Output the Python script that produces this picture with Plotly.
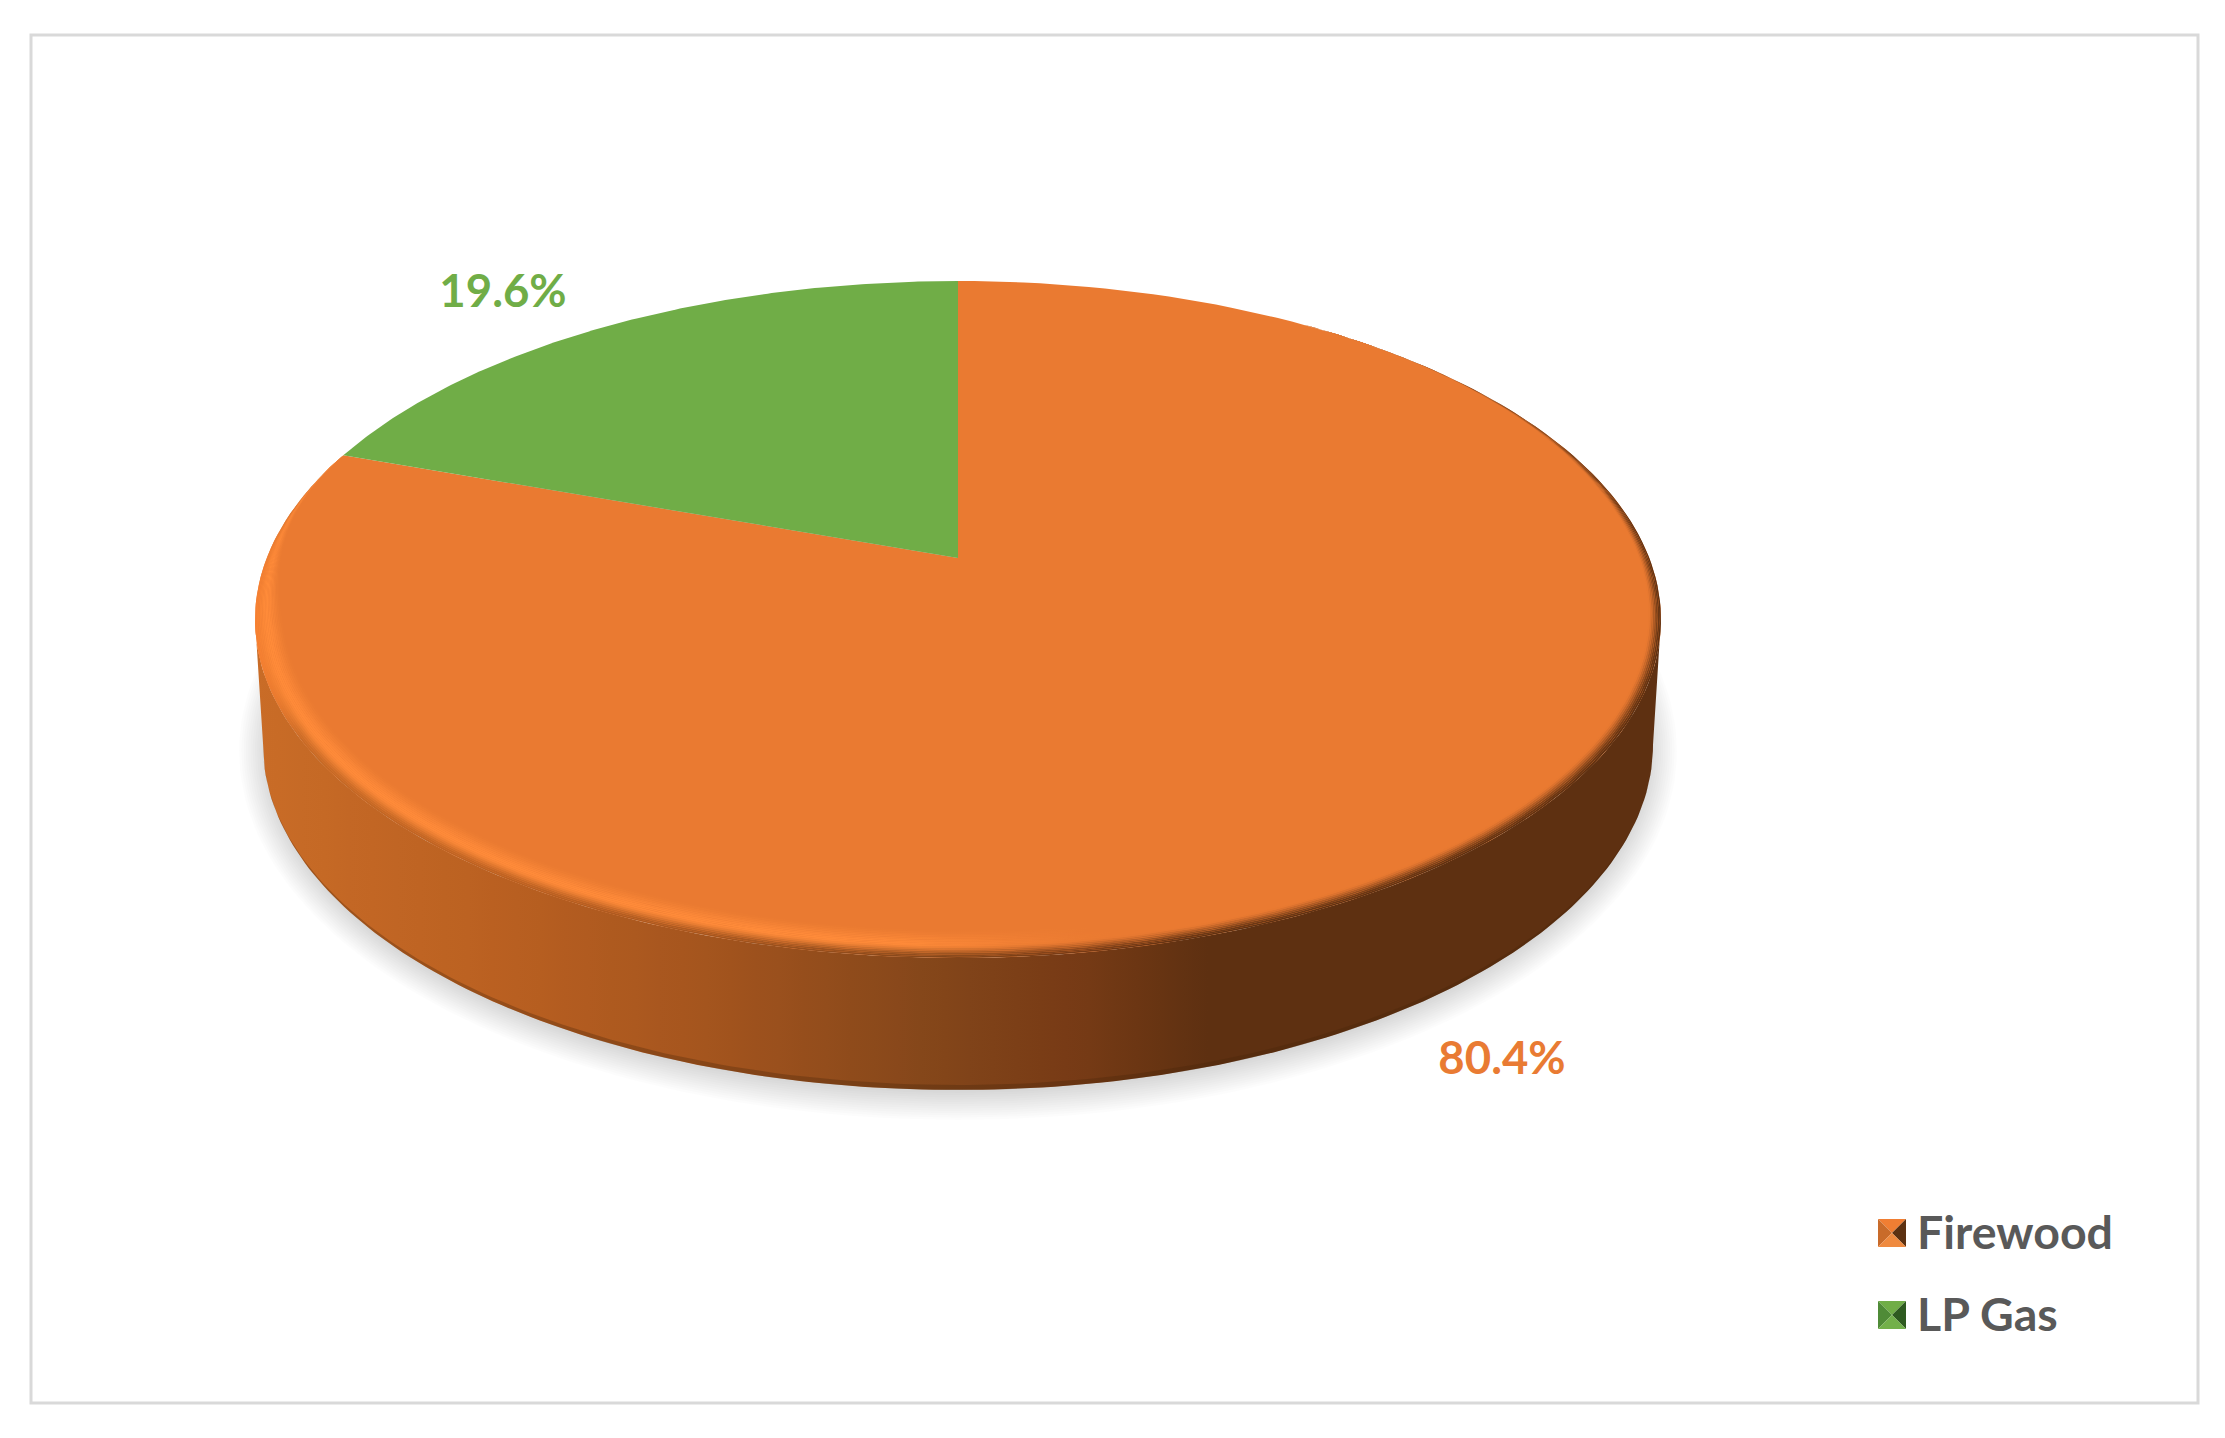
import numpy as np
import plotly.graph_objects as go

# data
LABELS = ['Firewood', 'LP Gas']
VALUES = [80.4, 19.6]
VALUE_TEXT = ['80.4%', '19.6%']
FACE_COLORS = ['#EA7A31', '#70AD47']
LABEL_COLORS = ['#E97B33', '#70AD47']

W, H = 2225, 1438

# perspective disc, all in page pixels
CX, APEX_Y = 958, 558
K, A, B = 0.1816, 691.3, 327.3
INNER_R, INNER_D = 0.965, 0.025
BOTTOM_RX, BOTTOM_RY, BOTTOM_CY = 695, 345, 745


def project(u, v):
    w = 1 + K * v
    return CX + A * u / w, APEX_Y - B * v / w


ELL_RX = A / np.sqrt(1 - K ** 2)
ELL_TOP, ELL_BOT = project(0, 1)[1], project(0, -1)[1]
ELL_CY = (ELL_TOP + ELL_BOT) / 2
ELL_RY = (ELL_BOT - ELL_TOP) / 2


def hex2rgb(c):
    return np.array([int(c[i:i + 2], 16) for i in (1, 3, 5)], dtype=float)


def mix(c1, c2, t):
    return c1 + (c2 - c1) * t


def smooth(t):
    t = np.clip(t, 0, 1)
    return t * t * (3 - 2 * t)


def css(c):
    return 'rgb(%d,%d,%d)' % tuple(np.round(c))


SIDE_X = [254, 500, 700, 930, 1083, 1205, 1661]
SIDE_C = ['#C96C27', '#BA6021', '#A5551E', '#84461A', '#763A15', '#5E3011', '#5E3011']
FACE = hex2rgb(FACE_COLORS[0])
GLOW = hex2rgb('#FF8B39')


def side_color(x):
    rgb = [hex2rgb(c) for c in SIDE_C]
    return np.array([np.interp(x, SIDE_X, [c[i] for c in rgb]) for i in range(3)])


def bevel_color(x, t):
    side = side_color(x)
    edge = mix(hex2rgb('#F98232'), side, smooth((x - 258) / 50))
    peak = mix(GLOW, FACE, smooth((x - 860) / 260))
    if t < 0.45:
        return mix(edge, peak, smooth(t / 0.45))
    return mix(peak, FACE, smooth((t - 0.45) / 0.55))


GRAD_X = np.linspace(254, 1661, 60)


def gradient(colorfn):
    scale = [[(x - 254) / (1661 - 254), css(colorfn(x))] for x in GRAD_X]
    return dict(type='horizontal', colorscale=scale, start=254, stop=1661)


def poly(x, y, fillcolor=None, fillgradient=None):
    kw = dict(fillgradient=fillgradient) if fillgradient else dict(fillcolor=fillcolor)
    return go.Scatter(x=list(x), y=list(y), mode='lines', fill='toself',
                      line=dict(width=0), hoverinfo='skip', showlegend=False, **kw)


fig = go.Figure()

# soft shadow under the disc
theta = np.radians(np.linspace(0, 360, 241))
for grow in np.linspace(28, 1, 13):
    fig.add_trace(poly(CX + (BOTTOM_RX + grow - 4) * np.sin(theta),
                       BOTTOM_CY + 6 + (BOTTOM_RY + grow - 4) * np.cos(theta),
                       fillcolor='rgba(0,0,0,0.012)'))

# side wall with the left to right light falloff
arc = np.radians(np.linspace(90, 270, 181))
top_x = CX + ELL_RX * np.sin(arc)
top_y = ELL_CY - ELL_RY * np.cos(arc)
low_x = CX + BOTTOM_RX * np.sin(arc)
low_y = BOTTOM_CY - BOTTOM_RY * np.cos(arc)
fig.add_trace(poly(np.r_[top_x, low_x[::-1]], np.r_[top_y, low_y[::-1]],
                   fillgradient=gradient(side_color)))
# darker lip along the foot of the wall
fig.add_trace(poly(np.r_[low_x, low_x[::-1]],
                   np.r_[low_y, (BOTTOM_CY - (BOTTOM_RY - 5) * np.cos(arc))[::-1]],
                   fillcolor='rgba(70,35,10,0.3)'))

# slices, clockwise from twelve o'clock
total = sum(VALUES)
start = 0.0
slice_end = []
for value, color in zip(VALUES, FACE_COLORS):
    end = start + 360 * value / total
    ang = np.radians(np.linspace(start, end, 181))
    x, y = project(np.sin(ang), np.cos(ang))
    apex = project(0, 0)
    fig.add_trace(poly(np.r_[apex[0], x, apex[0]], np.r_[apex[1], y, apex[1]], fillcolor=color))
    slice_end.append(end)
    start = end

# rounded rim of the first slice
rim_a = np.linspace(35, slice_end[0], 201)
taper = smooth((rim_a - 35) / 50) * smooth((slice_end[0] - rim_a) / 35)
rim_r = np.radians(rim_a)


def rim(t):
    k = t * taper
    u = (1 - k) * np.sin(rim_r) + k * INNER_R * np.sin(rim_r)
    v = (1 - k) * np.cos(rim_r) + k * (INNER_D + INNER_R * np.cos(rim_r))
    return project(u, v)


levels = np.linspace(0, 1, 19)
for t0, t1 in zip(levels[:-1], levels[1:]):
    x0, y0 = rim(t0)
    x1, y1 = rim(t1)
    tm = (t0 + t1) / 2
    fig.add_trace(poly(np.r_[x0, x1[::-1]], np.r_[y0, y1[::-1]],
                       fillgradient=gradient(lambda x: bevel_color(x, tm))))

# percent labels
LABEL_X = [1502, 503]
LABEL_Y = [1063, 296]
for i in range(2):
    fig.add_trace(go.Scatter(x=[LABEL_X[i]], y=[LABEL_Y[i]], mode='text', text=[VALUE_TEXT[i]],
                             textposition='middle center', hoverinfo='skip', showlegend=False,
                             textfont=dict(family='Lato', size=45.5, color=LABEL_COLORS[i], weight='bold')))

# legend keys, four shaded triangles per key
KEY_SHADES = [['#F07E33', '#C96B2A', '#5C3111', '#EF8A3F'],
              ['#70AD47', '#4F8B37', '#2E5A20', '#72B04A']]
KEY_Y = [1233, 1315]
for i in range(2):
    cx, cy, h = 1892, KEY_Y[i], 14
    corners = [(cx - h, cy - h), (cx + h, cy - h), (cx + h, cy + h), (cx - h, cy + h)]
    sides = [(0, 1, 0), (3, 0, 1), (1, 2, 2), (2, 3, 3)]
    for a, b, shade in sides:
        fig.add_trace(poly([corners[a][0], corners[b][0], cx], [corners[a][1], corners[b][1], cy],
                           fillcolor=KEY_SHADES[i][shade]))
    fig.add_trace(go.Scatter(x=[1917], y=[cy + 4], mode='text', text=[LABELS[i]],
                             textposition='middle right', hoverinfo='skip', showlegend=False,
                             textfont=dict(family='Lato', size=46.5, color='#595959', weight='bold')))

fig.update_layout(
    width=W, height=H, margin=dict(l=0, r=0, t=0, b=0),
    paper_bgcolor='white', plot_bgcolor='white', showlegend=False,
    xaxis=dict(range=[0, W], visible=False, fixedrange=True),
    yaxis=dict(range=[H, 0], visible=False, fixedrange=True),
    shapes=[dict(type='rect', x0=31, y0=35, x1=2198, y1=1403,
                 line=dict(color='#D9D9D9', width=3), layer='below')],
)

fig.write_html("out.html", config=dict(displayModeBar=False),
               post_script="document.body.style.margin='0';")
